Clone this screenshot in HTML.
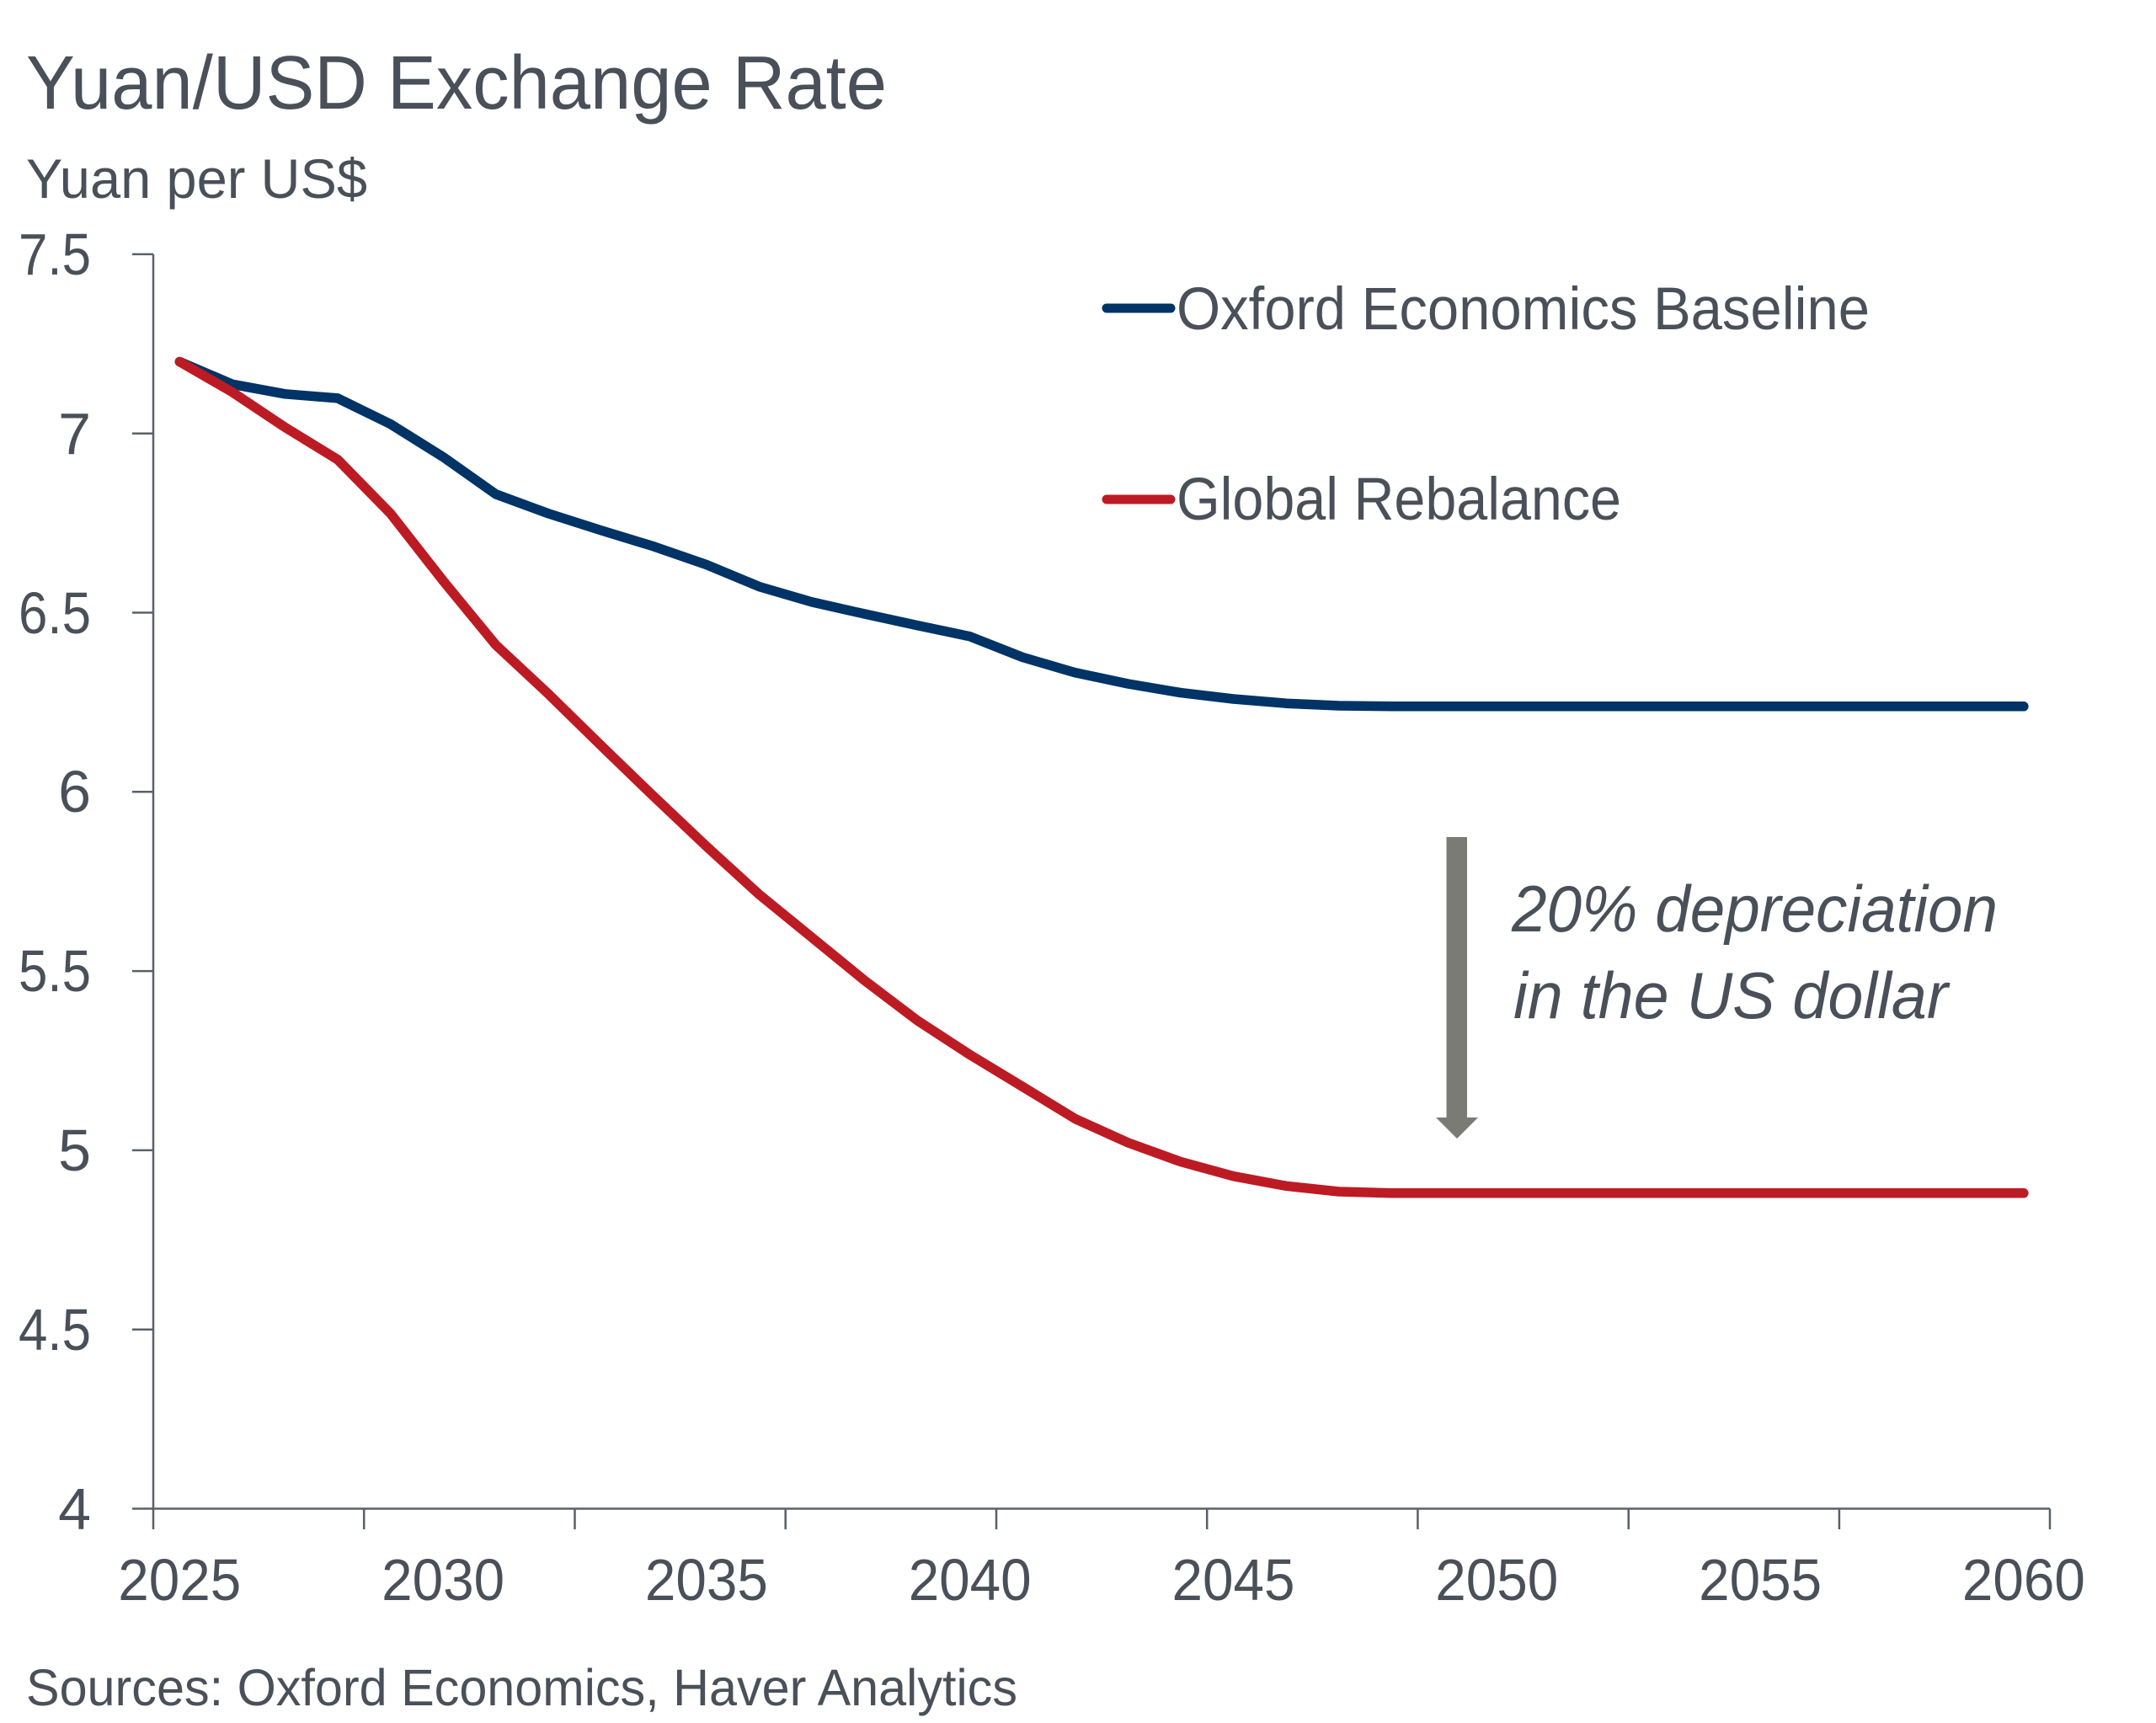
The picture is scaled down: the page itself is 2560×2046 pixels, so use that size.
<!DOCTYPE html>
<html>
<head>
<meta charset="utf-8">
<style>
  html,body{margin:0;padding:0;background:#ffffff;}
  svg{display:block;}
  text{font-family:"Liberation Sans", Arial, sans-serif; fill:#4a5059;}
</style>
</head>
<body>
<svg width="2560" height="2046" viewBox="0 0 2560 2046" xmlns="http://www.w3.org/2000/svg">
  <rect x="0" y="0" width="2560" height="2046" fill="#ffffff"/>

  <!-- Title & subtitle -->
  <text x="31" y="129" font-size="90" textLength="1022" lengthAdjust="spacingAndGlyphs">Yuan/USD Exchange Rate</text>
  <text x="31" y="235" font-size="66" textLength="405" lengthAdjust="spacingAndGlyphs">Yuan per US$</text>

  <!-- Axes -->
  <g stroke="#5a6068" stroke-width="2.5" fill="none">
    <line x1="182" y1="301.9" x2="182" y2="1816"/>
    <line x1="157" y1="1791.5" x2="2434" y2="1791.5"/>
    <line x1="157" y1="301.9" x2="182" y2="301.9"/>
    <line x1="157" y1="514.7" x2="182" y2="514.7"/>
    <line x1="157" y1="727.5" x2="182" y2="727.5"/>
    <line x1="157" y1="940.3" x2="182" y2="940.3"/>
    <line x1="157" y1="1153.1" x2="182" y2="1153.1"/>
    <line x1="157" y1="1365.9" x2="182" y2="1365.9"/>
    <line x1="157" y1="1578.7" x2="182" y2="1578.7"/>
    <line x1="432.2" y1="1791.5" x2="432.2" y2="1816"/>
    <line x1="682.5" y1="1791.5" x2="682.5" y2="1816"/>
    <line x1="932.7" y1="1791.5" x2="932.7" y2="1816"/>
    <line x1="1183" y1="1791.5" x2="1183" y2="1816"/>
    <line x1="1433.2" y1="1791.5" x2="1433.2" y2="1816"/>
    <line x1="1683.4" y1="1791.5" x2="1683.4" y2="1816"/>
    <line x1="1933.7" y1="1791.5" x2="1933.7" y2="1816"/>
    <line x1="2183.9" y1="1791.5" x2="2183.9" y2="1816"/>
    <line x1="2434" y1="1791.5" x2="2434" y2="1816"/>
  </g>

  <!-- Y labels -->
  <g font-size="70">
    <text x="22" y="326" textLength="86" lengthAdjust="spacingAndGlyphs">7.5</text>
    <text x="108" y="539" text-anchor="end">7</text>
    <text x="22" y="752" textLength="86" lengthAdjust="spacingAndGlyphs">6.5</text>
    <text x="108" y="964" text-anchor="end">6</text>
    <text x="22" y="1177" textLength="86" lengthAdjust="spacingAndGlyphs">5.5</text>
    <text x="108" y="1390" text-anchor="end">5</text>
    <text x="22" y="1603" textLength="86" lengthAdjust="spacingAndGlyphs">4.5</text>
    <text x="108" y="1816" text-anchor="end">4</text>
  </g>

  <!-- X labels -->
  <g font-size="70">
    <text x="140.3" y="1900" textLength="146" lengthAdjust="spacingAndGlyphs">2025</text>
    <text x="453.1" y="1900" textLength="146" lengthAdjust="spacingAndGlyphs">2030</text>
    <text x="765.9" y="1900" textLength="146" lengthAdjust="spacingAndGlyphs">2035</text>
    <text x="1078.7" y="1900" textLength="146" lengthAdjust="spacingAndGlyphs">2040</text>
    <text x="1391.5" y="1900" textLength="146" lengthAdjust="spacingAndGlyphs">2045</text>
    <text x="1704.3" y="1900" textLength="146" lengthAdjust="spacingAndGlyphs">2050</text>
    <text x="2017.1" y="1900" textLength="146" lengthAdjust="spacingAndGlyphs">2055</text>
    <text x="2329.9" y="1900" textLength="146" lengthAdjust="spacingAndGlyphs">2060</text>
  </g>

  <!-- Series: Baseline (blue) -->
  <polyline fill="none" stroke="#003366" stroke-width="11.5" stroke-linejoin="round" stroke-linecap="round"
    points="213.3,429.5 275.9,456.3 338.4,467.8 401.0,472.9 463.5,503.5 526.1,542.6 588.7,586.8 651.2,609.8 713.8,629.8 776.3,648.9 838.9,670.6 901.5,696.6 964.0,714.9 1026.6,729.0 1089.1,742.6 1151.7,755.8 1214.3,780.5 1276.8,798.8 1339.4,812.0 1401.9,822.6 1464.5,830.0 1527.1,835.2 1589.6,838.0 1652.2,838.8 1714.7,838.8 1777.3,838.8 1839.9,838.8 1902.4,838.8 1965.0,838.8 2027.5,838.8 2090.1,838.8 2152.7,838.8 2215.2,838.8 2277.8,838.8 2340.3,838.8 2402.9,838.8"/>

  <!-- Series: Global Rebalance (red) -->
  <polyline fill="none" stroke="#bd1b24" stroke-width="11.5" stroke-linejoin="round" stroke-linecap="round"
    points="213.3,429.5 275.9,465.7 338.4,507.4 401.0,545.8 463.5,609.6 526.1,689.6 588.7,765.8 651.2,824.1 713.8,885.4 776.3,945.8 838.9,1005.1 901.5,1062.2 964.0,1113.2 1026.6,1164.3 1089.1,1211.7 1151.7,1252.5 1214.3,1290.4 1276.8,1328.6 1339.4,1356.9 1401.9,1379.5 1464.5,1396.7 1527.1,1408.3 1589.6,1415.0 1652.2,1416.8 1714.7,1416.8 1777.3,1416.8 1839.9,1416.8 1902.4,1416.8 1965.0,1416.8 2027.5,1416.8 2090.1,1416.8 2152.7,1416.8 2215.2,1416.8 2277.8,1416.8 2340.3,1416.8 2402.9,1416.8"/>

  <!-- Legend -->
  <line x1="1314" y1="366" x2="1390" y2="366" stroke="#003366" stroke-width="11" stroke-linecap="round"/>
  <text x="1397" y="391" font-size="71" textLength="823" lengthAdjust="spacingAndGlyphs">Oxford Economics Baseline</text>
  <line x1="1314" y1="593" x2="1390" y2="593" stroke="#bd1b24" stroke-width="11" stroke-linecap="round"/>
  <text x="1397" y="617" font-size="71" textLength="528" lengthAdjust="spacingAndGlyphs">Global Rebalance</text>

  <!-- Arrow -->
  <rect x="1717.5" y="994" width="24.5" height="334" fill="#7b7b76"/>
  <polygon points="1705,1327 1755,1327 1730,1352" fill="#7b7b76"/>

  <!-- Annotation -->
  <text x="1795" y="1106" font-size="78" font-style="italic" textLength="577" lengthAdjust="spacingAndGlyphs">20% depreciation</text>
  <text x="1797" y="1209" font-size="78" font-style="italic" textLength="516" lengthAdjust="spacingAndGlyphs">in the US dollar</text>

  <!-- Source -->
  <text x="31" y="2025" font-size="61" textLength="1177" lengthAdjust="spacingAndGlyphs">Sources: Oxford Economics, Haver Analytics</text>
</svg>
</body>
</html>
